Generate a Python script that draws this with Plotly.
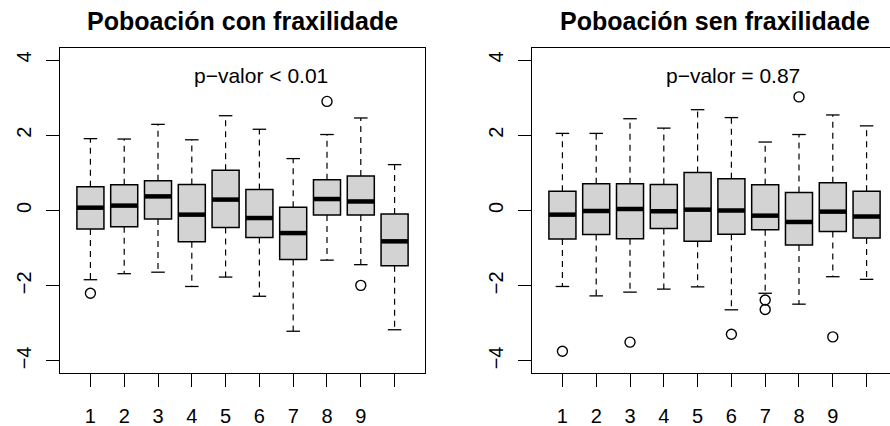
import plotly.graph_objects as go

groups = [1, 2, 3, 4, 5, 6, 7, 8, 9, 10]
tick_labels = ["1", "2", "3", "4", "5", "6", "7", "8", "9", ""]

# Poboación con fraxilidade
con_upper = [1.91, 1.90, 2.29, 1.88, 2.52, 2.16, 1.38, 2.02, 2.46, 1.22]
con_q3 = [0.63, 0.685, 0.79, 0.69, 1.07, 0.56, 0.084, 0.82, 0.92, -0.09]
con_med = [0.075, 0.13, 0.375, -0.11, 0.29, -0.20, -0.60, 0.305, 0.24, -0.82]
con_q1 = [-0.49, -0.43, -0.225, -0.83, -0.45, -0.72, -1.30, -0.12, -0.12, -1.47]
con_lower = [-1.84, -1.68, -1.64, -2.02, -1.77, -2.28, -3.21, -1.32, -1.44, -3.17]
con_out_x = [1, 8, 9]
con_out_y = [-2.20, 2.90, -1.99]

# Poboación sen fraxilidade
sen_upper = [2.05, 2.05, 2.44, 2.19, 2.68, 2.47, 1.82, 2.02, 2.54, 2.25]
sen_q3 = [0.51, 0.71, 0.71, 0.69, 1.01, 0.845, 0.685, 0.48, 0.74, 0.51]
sen_med = [-0.11, -0.013, 0.04, -0.02, 0.022, 0.0, -0.137, -0.305, -0.03, -0.16]
sen_q1 = [-0.76, -0.64, -0.75, -0.48, -0.82, -0.63, -0.51, -0.92, -0.56, -0.73]
sen_lower = [-2.02, -2.27, -2.17, -2.09, -2.03, -2.64, -2.20, -2.49, -1.76, -1.83]
sen_out_x = [1, 3, 6, 7, 7, 8, 9]
sen_out_y = [-3.74, -3.50, -3.29, -2.38, -2.63, 3.02, -3.36]

titles = ["Poboación con fraxilidade", "Poboación sen fraxilidade"]
pvals = ["p\u2212valor < 0.01", "p\u2212valor = 0.87"]

FONT = "Liberation Sans, Arial, Helvetica, sans-serif"
W, H = 890, 426
PXU = 365 / 10.8  # px per x unit

fig = go.Figure()

panels = [
    (con_upper, con_q3, con_med, con_q1, con_lower, con_out_x, con_out_y, "x", "y"),
    (sen_upper, sen_q3, sen_med, sen_q1, sen_lower, sen_out_x, sen_out_y, "x2", "y2"),
]

for up, q3, med, q1, lo, ox, oy, xa, ya in panels:
    # whiskers (dashed)
    wx, wy = [], []
    for g, a, b, c, d in zip(groups, up, q3, q1, lo):
        wx += [g, g, None, g, g, None]
        wy += [b, a, None, c, d, None]
    fig.add_trace(go.Scatter(x=wx, y=wy, mode="lines", xaxis=xa, yaxis=ya,
                             line=dict(color="black", width=1.2, dash="6px,5px"),
                             hoverinfo="skip", showlegend=False))
    # staples
    sx, sy = [], []
    for g, a, d in zip(groups, up, lo):
        sx += [g - 0.2, g + 0.2, None, g - 0.2, g + 0.2, None]
        sy += [a, a, None, d, d, None]
    fig.add_trace(go.Scatter(x=sx, y=sy, mode="lines", xaxis=xa, yaxis=ya,
                             line=dict(color="black", width=1.3),
                             hoverinfo="skip", showlegend=False))
    # boxes
    fig.add_trace(go.Box(x=groups, q1=q1, median=med, q3=q3, lowerfence=q1, upperfence=q3,
                         width=0.8, xaxis=xa, yaxis=ya, boxpoints=False,
                         fillcolor="#D3D3D3", line=dict(color="black", width=1.5),
                         whiskerwidth=0, showlegend=False))
    # medians (thick)
    mx, my = [], []
    for g, m in zip(groups, med):
        mx += [g - 0.4, g + 0.4, None]
        my += [m, m, None]
    fig.add_trace(go.Scatter(x=mx, y=my, mode="lines", xaxis=xa, yaxis=ya,
                             line=dict(color="black", width=4.5),
                             hoverinfo="skip", showlegend=False))
    # outliers
    fig.add_trace(go.Scatter(x=ox, y=oy, mode="markers", xaxis=xa, yaxis=ya,
                             marker=dict(symbol="circle-open", size=10, color="black",
                                         line=dict(width=1.4, color="black")),
                             hoverinfo="skip", showlegend=False))

ydom = [1 - 373 / H, 1 - 48 / H]
yticks = dict(tickvals=[-4, -2, 0, 2, 4], ticktext=["\u22124", "\u22122", "0", "2", "4"])

common_x = dict(tickvals=groups, ticktext=tick_labels, ticks="outside", ticklen=13,
                tickwidth=1.2, tickcolor="black", showline=True, linecolor="black",
                linewidth=1.3, showgrid=False, zeroline=False, mirror=True,
                tickfont=dict(family=FONT, size=20, color="black"), ticklabelstandoff=12)
common_y = dict(range=[-4.32, 4.32], domain=ydom, ticks="outside", ticklen=13,
                tickwidth=1.2, tickcolor="black", showline=True, linecolor="black",
                linewidth=1.3, showgrid=False, zeroline=False, tickangle=-90,
                tickfont=dict(family=FONT, size=20, color="black"), ticklabelstandoff=7,
                **yticks)

fig.update_layout(
    width=W, height=H, margin=dict(l=0, r=0, t=0, b=0),
    plot_bgcolor="white", paper_bgcolor="white", showlegend=False,
    xaxis=dict(domain=[60 / W, 425 / W], range=[0.1, 10.9], anchor="y", **common_x),
    yaxis=dict(anchor="x", mirror=True, **common_y),
    xaxis2=dict(domain=[532 / W, 1.0], range=[0.1, 0.1 + 358 / PXU], anchor="y2", **common_x),
    yaxis2=dict(anchor="x2", mirror=False, **common_y),
)

# titles
for cx, t in zip([242.5, 714.5], titles):
    fig.add_annotation(x=cx / W, y=1 - 21 / H, xref="paper", yref="paper", text="<b>" + t + "</b>",
                       showarrow=False, xanchor="center", yanchor="middle",
                       font=dict(family=FONT, size=25, color="black"))

# p-values
for xa, ya, t in zip(["x", "x2"], ["y", "y2"], pvals):
    fig.add_annotation(x=6.05, y=3.59, xref=xa, yref=ya, text=t, showarrow=False,
                       xanchor="center", yanchor="middle",
                       font=dict(family=FONT, size=21, color="black"))

fig.write_html("out.html")
